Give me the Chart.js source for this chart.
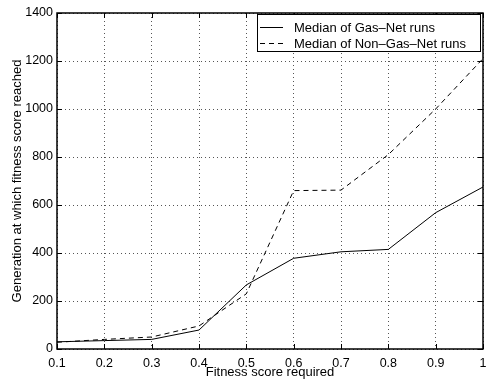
<!DOCTYPE html>
<html>
<head>
<meta charset="utf-8">
<script src="https://cdn.jsdelivr.net/npm/chart.js@4.4.0/dist/chart.umd.min.js"></script>
<style>
  html, body { margin: 0; padding: 0; background: #fff; }
  #wrap { width: 486px; height: 380px; position: relative; }
</style>
</head>
<body>
<div id="wrap"><canvas id="chart"></canvas></div>
<script>
// fitness score thresholds (x axis)
var fitness = [0.1, 0.2, 0.3, 0.4, 0.5, 0.6, 0.7, 0.8, 0.9, 1.0];
// median generation at which the score was reached
var gasNet    = [30, 35, 40, 79, 267, 378, 405, 415, 568, 675];
var nonGasNet = [28, 40, 50, 96, 230, 660, 662, 810, 1000, 1210];

var seriesLabels = ["Median of Gas\u2013Net runs", "Median of Non\u2013Gas\u2013Net runs"];
var yTicks = [0, 200, 400, 600, 800, 1000, 1200, 1400];

var FONT = "'Liberation Sans', Arial, Helvetica, sans-serif";

function toPoints(xs, ys) {
	var pts = [];
	for (var i = 0; i < xs.length; i++) {
		pts.push({ x: xs[i], y: ys[i] });
	}
	return pts;
}

// box, inward ticks and legend, matlab style
var framePlugin = {
	id: "frame",
	afterDraw: function(chart) {
		var ctx = chart.ctx;
		var a = chart.chartArea;
		var xs = chart.scales.x, ys = chart.scales.y;
		ctx.save();
		ctx.strokeStyle = "#000";
		ctx.lineWidth = 1;

		// inward tick marks
		ctx.beginPath();
		fitness.forEach(function(v) {
			var px = Math.round(xs.getPixelForValue(v)) + 0.5;
			ctx.moveTo(px, a.bottom); ctx.lineTo(px, a.bottom - 5);
			ctx.moveTo(px, a.top); ctx.lineTo(px, a.top + 5);
		});
		yTicks.forEach(function(v) {
			var py = Math.round(ys.getPixelForValue(v)) + 0.5;
			ctx.moveTo(a.left, py); ctx.lineTo(a.left + 5, py);
			ctx.moveTo(a.right, py); ctx.lineTo(a.right - 5, py);
		});
		ctx.stroke();

		// outer box
		ctx.lineWidth = 1.5;
		ctx.strokeRect(a.left, a.top, a.right - a.left, a.bottom - a.top);

		// legend
		var bx = 257, by = 14, bw = 223, bh = 37;
		ctx.fillStyle = "#fff";
		ctx.fillRect(bx, by, bw, bh);
		ctx.lineWidth = 1;
		ctx.strokeRect(bx + 0.5, by + 0.5, bw, bh);
		ctx.font = "13px " + FONT;
		ctx.fillStyle = "#000";
		ctx.textBaseline = "middle";
		var rows = [27, 43];
		chart.data.datasets.forEach(function(ds, i) {
			ctx.beginPath();
			ctx.setLineDash(ds.borderDash || []);
			ctx.moveTo(260, rows[i] + 0.5);
			ctx.lineTo(283, rows[i] + 0.5);
			ctx.stroke();
			ctx.setLineDash([]);
			ctx.fillText(ds.label, 294, rows[i] + 1);
		});
		ctx.restore();
	}
};

var ctx = document.getElementById("chart");

var chart = new Chart(ctx, {
	type: "line",
	data: {
		datasets: [
			{
				label: seriesLabels[0],
				data: toPoints(fitness, gasNet),
				borderColor: "#000",
				borderWidth: 1,
				pointRadius: 0,
				tension: 0,
				fill: false
			},
			{
				label: seriesLabels[1],
				data: toPoints(fitness, nonGasNet),
				borderColor: "#000",
				borderWidth: 1,
				borderDash: [5, 4],
				pointRadius: 0,
				tension: 0,
				fill: false
			}
		]
	},
	options: {
		responsive: true,
		maintainAspectRatio: false,
		animation: false,
		layout: { padding: { top: 13, right: 0, left: 0, bottom: 0 } },
		plugins: {
			legend: { display: false },
			tooltip: { enabled: false }
		},
		scales: {
			x: {
				type: "linear",
				min: 0.1,
				max: 1,
				afterFit: function(s) { s.height = 31; s.paddingRight = 3; },
				afterBuildTicks: function(s) {
					s.ticks = fitness.map(function(v) { return { value: v }; });
				},
				ticks: {
					color: "#000",
					font: { family: FONT, size: 12.5 },
					padding: 7,
					maxRotation: 0,
					callback: function(v) { return String(+v.toFixed(1)); }
				},
				grid: {
					color: "#555",
					lineWidth: 1,
					drawTicks: false
				},
				border: { display: false, dash: [1, 3] },
				title: {
					display: true,
					text: "Fitness score required",
					color: "#000",
					font: { family: FONT, size: 13 },
					padding: { top: 0, bottom: 0 }
				}
			},
			y: {
				type: "linear",
				min: 0,
				max: 1400,
				afterFit: function(s) { s.width = 57; },
				afterBuildTicks: function(s) {
					s.ticks = yTicks.map(function(v) { return { value: v }; });
				},
				ticks: {
					color: "#000",
					font: { family: FONT, size: 12.5 },
					padding: 4,
					callback: function(v) { return String(v); }
				},
				grid: {
					color: "#555",
					lineWidth: 1,
					drawTicks: false
				},
				border: { display: false, dash: [1, 3] },
				title: {
					display: true,
					text: "Generation at which fitness score reached",
					color: "#000",
					font: { family: FONT, size: 13 },
					padding: { top: 10, bottom: 0 }
				}
			}
		}
	},
	plugins: [framePlugin]
});
</script>
</body>
</html>
